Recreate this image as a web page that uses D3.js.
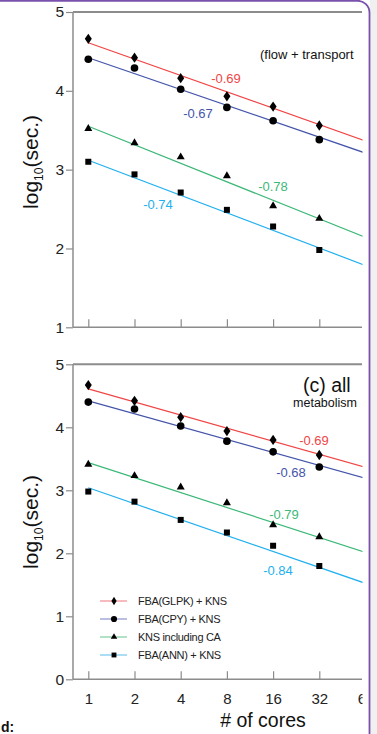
<!DOCTYPE html>
<html>
<head>
<meta charset="utf-8">
<script src="https://cdn.jsdelivr.net/npm/d3@7"></script>
<style>
  body { margin: 0; background: #fff; }
  svg { display: block; font-family: "Liberation Sans", Arial, sans-serif; }
</style>
</head>
<body>
<svg id="grafico" width="377" height="734"></svg>
<script>
// Dados
let nucleos = [1, 2, 4, 8, 16, 32];
let rotulosX = [1, 2, 4, 8, 16, 32, 64];
let series = ["FBA(GLPK) + KNS", "FBA(CPY) + KNS", "KNS including CA", "FBA(ANN) + KNS"];

// painel de cima (flow + transport)
let glpkTopo = [4.66, 4.42, 4.16, 3.93, 3.80, 3.56];
let cpyTopo = [4.40, 4.29, 4.02, 3.79, 3.62, 3.38];
let knsTopo = [3.52, 3.34, 3.16, 2.92, 2.54, 2.38];
let annTopo = [3.10, 2.94, 2.71, 2.49, 2.28, 1.98];
let interceptosTopo = [4.61, 4.42, 3.55, 3.12];
let inclinacoesTopo = [-0.69, -0.67, -0.78, -0.74];

// painel de baixo (c) all ...
let glpkBaixo = [4.67, 4.42, 4.16, 3.94, 3.80, 3.56];
let cpyBaixo = [4.40, 4.29, 4.02, 3.78, 3.61, 3.37];
let knsBaixo = [3.41, 3.23, 3.05, 2.80, 2.45, 2.26];
let annBaixo = [2.98, 2.82, 2.53, 2.33, 2.12, 1.80];
let interceptosBaixo = [4.61, 4.42, 3.44, 3.04];
let inclinacoesBaixo = [-0.69, -0.68, -0.79, -0.84];

let cores = ["#f04545", "#4455aa", "#3cb878", "#22b0ee"];
let coresLegenda = ["#f3a3aa", "#a3aad8", "#97d8b3", "#8fd2f2"];
let simbolos = [d3.symbolDiamond2, d3.symbolCircle, d3.symbolTriangle2, d3.symbolSquare2];

let svg = d3.select("#grafico");
let cinza = "#8c8c8c";
let xEsq = 73, xDir = 362;

// moldura roxa
svg.append("rect").attr("x", 370).attr("y", 0).attr("width", 7).attr("height", 734).attr("fill", "#f0f0f0");
svg.append("path")
  .attr("d", "M-5,0.8 L357,0.8 A12,12 0 0 1 369.5,13 L369.5,740")
  .attr("fill", "none").attr("stroke", "#7a52ad").attr("stroke-width", 1.8);

svg.append("defs").append("clipPath").attr("id", "corte")
  .append("rect").attr("x", 0).attr("y", 0).attr("width", xDir + 0.5).attr("height", 734);

let fnX = d3.scaleLog().base(2).domain([1, 32]).range([88.3, 319.3]);

function painel(p) {
  let fnY = d3.scaleLinear().domain(p.dominio).range([p.base, p.topo]);
  let g = svg.append("g").attr("clip-path", "url(#corte)");

  // eixo y
  let eixoY = g.append("g").attr("transform", `translate(${xEsq},0)`)
    .call(d3.axisLeft(fnY).ticks(p.dominio[1] - p.dominio[0]).tickFormat(d3.format("d")).tickSize(7).tickPadding(2))
    .attr("font-family", null);
  eixoY.select(".domain").remove();
  eixoY.selectAll("line").attr("stroke", cinza).attr("stroke-width", 1.2);
  eixoY.selectAll("text").attr("font-size", 15.5).attr("fill", "#222");

  // eixo x
  let eixoX = g.append("g").attr("transform", `translate(0,${p.base})`)
    .call(d3.axisBottom(fnX).tickValues(rotulosX).tickSizeInner(-8).tickSizeOuter(0)
      .tickPadding(14).tickFormat(p.rotulos ? d3.format("d") : ""))
    .attr("font-family", null);
  eixoX.select(".domain").remove();
  eixoX.selectAll("line").attr("stroke", cinza).attr("stroke-width", 1.2);
  eixoX.selectAll("text").attr("font-size", 15).attr("fill", "#222");

  // linhas do quadro
  g.append("line").attr("x1", xEsq).attr("x2", xEsq).attr("y1", p.topo).attr("y2", p.base)
    .attr("stroke", cinza).attr("stroke-width", 1.5);
  g.append("line").attr("x1", xEsq).attr("x2", xDir).attr("y1", p.base).attr("y2", p.base)
    .attr("stroke", cinza).attr("stroke-width", 1.5);
  g.append("line").attr("x1", xEsq).attr("x2", xDir).attr("y1", p.topo).attr("y2", p.topo)
    .attr("stroke", cinza).attr("stroke-width", 2);

  // retas ajustadas
  p.interceptos.forEach((a, i) => {
    let fit = (c) => a + p.inclinacoes[i] * Math.log10(c);
    g.append("line")
      .attr("x1", fnX(1)).attr("y1", fnY(fit(1)))
      .attr("x2", fnX(80)).attr("y2", fnY(fit(80)))
      .attr("stroke", cores[i]).attr("stroke-width", 1.2);
  });

  // pontos
  p.valores.forEach((serie, i) => {
    g.selectAll(".ponto" + i)
      .data(serie)
      .enter()
      .append("path")
      .attr("d", d3.symbol(simbolos[i], i === 0 ? 56 : 46))
      .attr("transform", (d, j) => `translate(${fnX(nucleos[j])},${fnY(d)})` + (i === 0 ? " scale(0.75,1.1)" : ""))
      .attr("fill", "#000");
  });

  // rótulos das inclinações
  p.notas.forEach((n, i) => {
    g.append("text").text(p.inclinacoes[i].toFixed(2))
      .attr("x", n[0]).attr("y", n[1]).attr("text-anchor", "middle")
      .attr("dy", "0.35em").attr("font-size", 13).attr("fill", cores[i]);
  });

  // título do eixo y
  let ty = svg.append("text").attr("transform", `translate(38,${p.meioY}) rotate(-90)`)
    .attr("text-anchor", "middle").attr("font-size", 21).attr("fill", "#111");
  ty.append("tspan").text("log");
  ty.append("tspan").text("10").attr("font-size", 12).attr("dy", 5);
  ty.append("tspan").text("(sec.)").attr("dy", -5);

  return { g, fnY };
}

let topo = painel({
  dominio: [1, 5], topo: 12, base: 327.3, rotulos: false, meioY: 162,
  valores: [glpkTopo, cpyTopo, knsTopo, annTopo],
  interceptos: interceptosTopo, inclinacoes: inclinacoesTopo,
  notas: [[226, 78], [198, 113], [273, 186], [158, 204]]
});
topo.g.append("text").text("(flow + transport")
  .attr("x", 260).attr("y", 54).attr("dy", "0.35em").attr("font-size", 13).attr("fill", "#111");

let baixo = painel({
  dominio: [0, 5], topo: 364.3, base: 679.3, rotulos: true, meioY: 522,
  valores: [glpkBaixo, cpyBaixo, knsBaixo, annBaixo],
  interceptos: interceptosBaixo, inclinacoes: inclinacoesBaixo,
  notas: [[314, 440], [291, 472], [284, 514], [278, 570]]
});
baixo.g.append("text").text("(c) all")
  .attr("x", 303).attr("y", 385).attr("dy", "0.35em").attr("font-size", 19.5).attr("fill", "#111");
baixo.g.append("text").text("metabolism")
  .attr("x", 357).attr("y", 403).attr("dy", "0.35em").attr("text-anchor", "end")
  .attr("font-size", 12.5).attr("fill", "#111");

// legenda
let legenda = svg.append("g");
series.forEach((s, i) => {
  let y = 601 + i * 18;
  legenda.append("line").attr("x1", 100).attr("x2", 127).attr("y1", y).attr("y2", y)
    .attr("stroke", coresLegenda[i]).attr("stroke-width", 1.5);
  legenda.append("path")
    .attr("d", d3.symbol(simbolos[i], i === 0 ? 36 : 30))
    .attr("transform", `translate(114,${y})` + (i === 0 ? " scale(0.7,1.1)" : ""))
    .attr("fill", "#000");
  legenda.append("text").text(s).attr("x", 138).attr("y", y).attr("dy", "0.35em")
    .attr("font-size", 11).attr("letter-spacing", -0.3).attr("fill", "#222");
});

// título do eixo x
svg.append("text").text("# of cores").attr("x", 263).attr("y", 727)
  .attr("text-anchor", "middle").attr("font-size", 19.5).attr("fill", "#111");

svg.append("text").text("d:").attr("x", 1).attr("y", 732)
  .attr("font-size", 14).attr("font-weight", "bold").attr("fill", "#111");
</script>
</body>
</html>
